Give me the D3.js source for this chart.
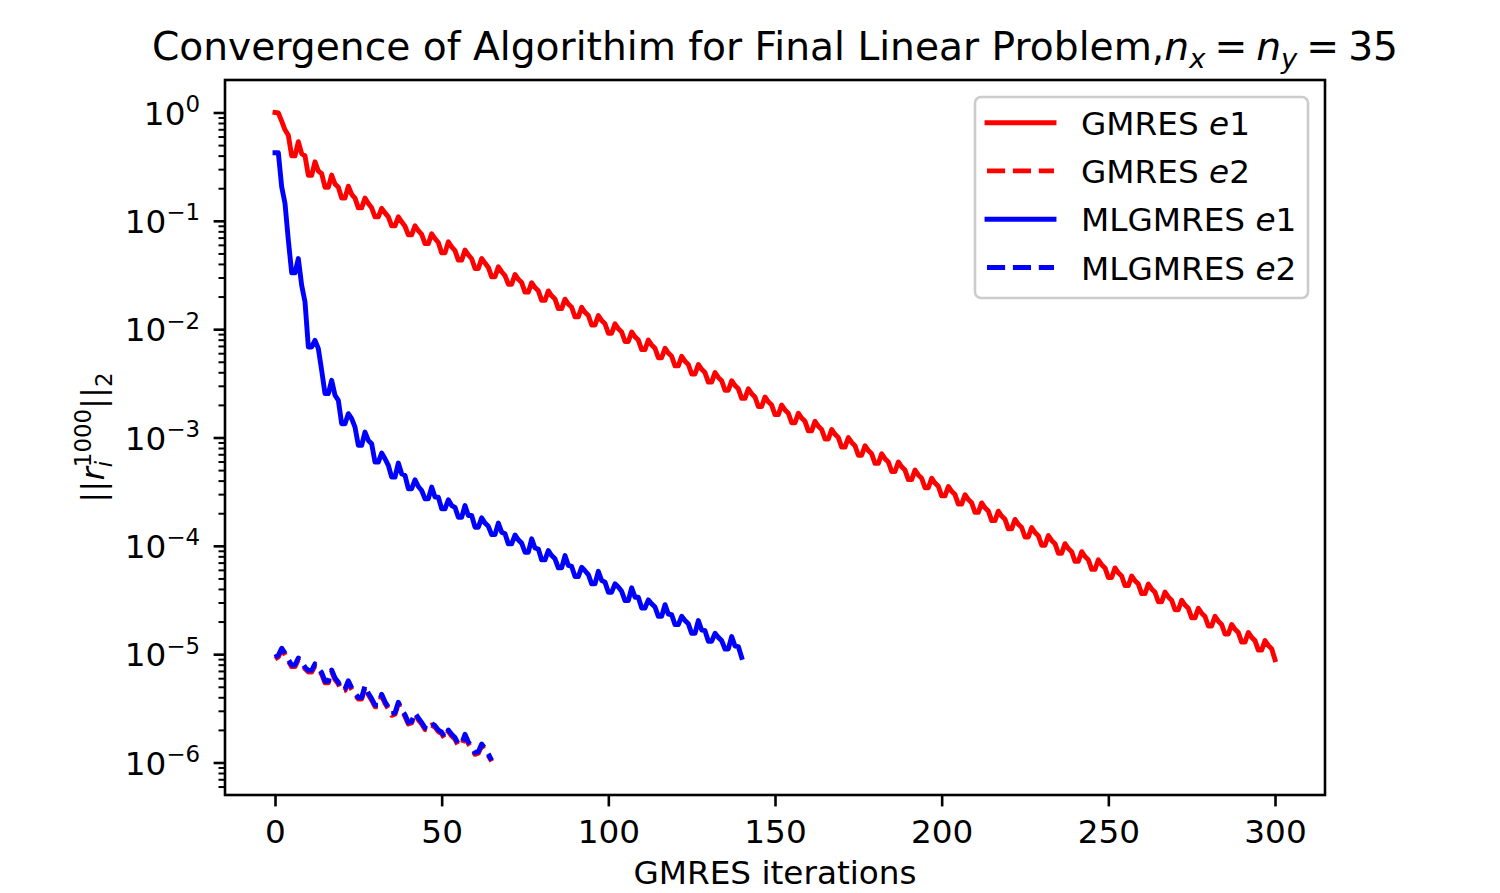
<!DOCTYPE html>
<html>
<head>
<meta charset="utf-8">
<script src="https://cdn.jsdelivr.net/npm/d3@7"></script>
<style>
  html, body { margin: 0; padding: 0; background: #fff; }
  svg text { font-family: "DejaVu Sans", sans-serif; fill: #000; white-space: pre; }
</style>
</head>
<body>
<svg id="chart" width="1500" height="893"></svg>
<script>
// ---------------- DATA (log10 of residual norm, per GMRES iteration) ----------------
const gmresE1Log10 = [
  0.0,-0.005,-0.08,-0.16,-0.21,-0.40,-0.40,-0.27,-0.38,-0.40,
  -0.58,-0.58,-0.455,-0.54,-0.565,-0.69,-0.69,-0.578,-0.66,-0.69,
  -0.79,-0.79,-0.68,-0.755,-0.79,-0.88,-0.88,-0.79,-0.84,-0.88,
  -0.963,-0.963,-0.885,-0.926,-0.963,-1.046,-1.046,-0.963,-1.009,-1.05,
  -1.13,-1.13,-1.046,-1.09,-1.125,-1.21,-1.21,-1.12,-1.165,-1.2,
  -1.296,-1.296,-1.194,-1.24,-1.275,-1.363,-1.363,-1.27,-1.315,-1.35,
  -1.44,-1.44,-1.348,-1.39,-1.43,-1.517,-1.517,-1.425,-1.47,-1.505,
  -1.585,-1.585,-1.495,-1.54,-1.57,-1.658,-1.658,-1.571,-1.616,-1.646,
  -1.734,-1.734,-1.647,-1.692,-1.722,-1.81,-1.81,-1.723,-1.768,-1.798,
  -1.886,-1.886,-1.799,-1.844,-1.874,-1.962,-1.962,-1.875,-1.92,-1.95,
  -2.038,-2.038,-1.951,-1.996,-2.026,-2.114,-2.114,-2.026,-2.071,-2.101,
  -2.189,-2.189,-2.101,-2.146,-2.176,-2.264,-2.264,-2.176,-2.221,-2.251,
  -2.339,-2.339,-2.251,-2.296,-2.326,-2.414,-2.414,-2.326,-2.371,-2.401,
  -2.489,-2.489,-2.401,-2.446,-2.476,-2.564,-2.564,-2.476,-2.521,-2.551,
  -2.639,-2.639,-2.551,-2.596,-2.626,-2.714,-2.714,-2.626,-2.671,-2.701,
  -2.789,-2.789,-2.701,-2.746,-2.776,-2.864,-2.864,-2.776,-2.821,-2.851,
  -2.939,-2.939,-2.851,-2.896,-2.926,-3.014,-3.014,-2.926,-2.971,-3.001,
  -3.089,-3.089,-3.001,-3.046,-3.076,-3.164,-3.164,-3.076,-3.121,-3.151,
  -3.239,-3.239,-3.151,-3.196,-3.226,-3.314,-3.314,-3.226,-3.271,-3.301,
  -3.389,-3.389,-3.301,-3.346,-3.376,-3.464,-3.464,-3.376,-3.421,-3.451,
  -3.539,-3.539,-3.452,-3.497,-3.527,-3.615,-3.615,-3.528,-3.573,-3.603,
  -3.691,-3.691,-3.604,-3.649,-3.679,-3.767,-3.767,-3.68,-3.725,-3.755,
  -3.843,-3.843,-3.756,-3.801,-3.831,-3.919,-3.919,-3.831,-3.876,-3.906,
  -3.994,-3.994,-3.905,-3.95,-3.98,-4.068,-4.068,-3.98,-4.025,-4.055,
  -4.143,-4.143,-4.054,-4.099,-4.129,-4.217,-4.217,-4.129,-4.174,-4.204,
  -4.292,-4.292,-4.204,-4.249,-4.279,-4.367,-4.367,-4.278,-4.323,-4.353,
  -4.441,-4.441,-4.353,-4.398,-4.428,-4.516,-4.516,-4.427,-4.472,-4.502,
  -4.59,-4.59,-4.502,-4.547,-4.577,-4.665,-4.665,-4.577,-4.622,-4.652,
  -4.74,-4.74,-4.651,-4.696,-4.726,-4.814,-4.814,-4.726,-4.771,-4.801,
  -4.889,-4.889,-4.80,-4.845,-4.875,-4.963,-4.963,-4.875,-4.92,-4.95,
  -5.05
];
const gmresE2Log10 = [
  -5.045,-5.025,-4.96,-5.005,-5.065,-5.115,-5.115,-5.05,-5.085,-5.135,
  -5.165,-5.165,-5.105,-5.145,-5.185,-5.265,-5.265,-5.16,-5.235,-5.275,
  -5.345,-5.335,-5.26,-5.325,-5.375,-5.415,-5.415,-5.305,-5.375,-5.425,
  -5.485,-5.485,-5.385,-5.455,-5.505,-5.565,-5.555,-5.46,-5.525,-5.575,
  -5.645,-5.635,-5.555,-5.605,-5.645,-5.695,-5.705,-5.655,-5.675,-5.715,
  -5.735,-5.785,-5.715,-5.755,-5.785,-5.845,-5.845,-5.755,-5.825,-5.875,
  -5.925,-5.915,-5.845,-5.885,-5.935,-5.99
];
const mlgmresE1Log10 = [
  -0.371,-0.371,-0.686,-0.839,-1.178,-1.48,-1.48,-1.348,-1.595,-1.748,
  -2.164,-2.164,-2.103,-2.18,-2.38,-2.595,-2.595,-2.472,-2.61,-2.657,
  -2.873,-2.873,-2.78,-2.826,-2.904,-3.073,-3.073,-2.95,-3.027,-3.058,
  -3.227,-3.227,-3.144,-3.196,-3.258,-3.366,-3.366,-3.236,-3.335,-3.35,
  -3.473,-3.473,-3.39,-3.452,-3.489,-3.566,-3.566,-3.458,-3.55,-3.55,
  -3.658,-3.658,-3.575,-3.628,-3.645,-3.736,-3.736,-3.628,-3.72,-3.72,
  -3.828,-3.828,-3.742,-3.79,-3.82,-3.896,-3.896,-3.79,-3.874,-3.889,
  -3.982,-3.982,-3.9,-3.945,-3.975,-4.059,-4.059,-3.935,-4.02,-4.03,
  -4.13,-4.13,-4.043,-4.09,-4.12,-4.203,-4.203,-4.09,-4.18,-4.19,
  -4.284,-4.284,-4.198,-4.23,-4.265,-4.351,-4.351,-4.235,-4.32,-4.335,
  -4.428,-4.428,-4.351,-4.38,-4.42,-4.506,-4.506,-4.388,-4.474,-4.474,
  -4.574,-4.574,-4.499,-4.535,-4.565,-4.651,-4.651,-4.543,-4.63,-4.636,
  -4.727,-4.727,-4.651,-4.69,-4.72,-4.808,-4.808,-4.69,-4.777,-4.783,
  -4.881,-4.881,-4.808,-4.845,-4.875,-4.952,-4.952,-4.838,-4.925,-4.93,
  -5.03
];
const mlgmresE2Log10 = [
  -5.03,-5.01,-4.945,-4.99,-5.05,-5.10,-5.10,-5.035,-5.07,-5.12,
  -5.15,-5.15,-5.09,-5.13,-5.17,-5.25,-5.25,-5.146,-5.22,-5.26,
  -5.33,-5.32,-5.245,-5.31,-5.36,-5.40,-5.40,-5.29,-5.36,-5.41,
  -5.47,-5.47,-5.37,-5.44,-5.49,-5.55,-5.54,-5.445,-5.51,-5.56,
  -5.63,-5.62,-5.54,-5.59,-5.63,-5.68,-5.69,-5.64,-5.66,-5.70,
  -5.72,-5.77,-5.70,-5.74,-5.77,-5.83,-5.83,-5.74,-5.81,-5.86,
  -5.91,-5.90,-5.83,-5.87,-5.92,-5.98
];
const seriesNames = ["GMRES", "GMRES", "MLGMRES", "MLGMRES"];
const seriesTags = ["1", "2", "1", "2"];
const xTickValues = [0, 50, 100, 150, 200, 250, 300];
const yMajorExponents = [0, -1, -2, -3, -4, -5, -6];

// ---------------- LAYOUT ----------------
const L = 225, R = 1325, T = 80, B = 795;
const FS = 32.7;
const TFS = 39.2;
const LW = 4.9;
const DASH = "18.1,7.8";

const svg = d3.select("#chart");
const x = d3.scaleLinear().domain([-15, 315]).range([L, R]);
const y = d3.scaleLog().domain([Math.pow(10, -6.3), Math.pow(10, 0.3)]).range([B, T]);

function rich(parent, pieces, base) {
  const g = parent.append("g").attr("text-anchor", "start");
  let cx = 0;
  pieces.forEach(p => {
    if (p.gap !== undefined) { cx += p.gap; return; }
    const t = g.append("text").attr("x", cx).attr("y", p.dy || 0)
      .attr("text-anchor", "start")
      .style("font-size", ((p.s || 1) * base) + "px")
      .style("font-style", p.i ? "italic" : "normal")
      .text(p.t);
    const w = t.node().getComputedTextLength();
    if (!p.noAdvance) cx += w;
  });
  return { g, width: cx };
}

// ---------------- LINES ----------------
const series = [
  { data: gmresE1Log10, color: "#ff0000", dash: null },
  { data: gmresE2Log10, color: "#ff0000", dash: DASH },
  { data: mlgmresE1Log10, color: "#0000ff", dash: null },
  { data: mlgmresE2Log10, color: "#0000ff", dash: DASH }
];
const line = d3.line().x((d, i) => x(i)).y(d => y(Math.pow(10, d)));
series.forEach(s => {
  svg.append("path").datum(s.data)
    .attr("d", line)
    .attr("fill", "none")
    .attr("stroke", s.color)
    .attr("stroke-width", LW)
    .attr("stroke-linejoin", "round")
    .attr("stroke-linecap", s.dash ? "butt" : "square")
    .attr("stroke-dasharray", s.dash);
});

// ---------------- AXES ----------------
const xAxis = d3.axisBottom(x).tickValues(xTickValues).tickSize(11.4).tickPadding(10).tickFormat(d3.format("d"));
const gx = svg.append("g").attr("transform", `translate(0,${B})`).call(xAxis);
gx.select(".domain").remove();
gx.selectAll(".tick line").attr("stroke", "#000").attr("stroke-width", 2.6);
gx.selectAll(".tick text").style("font-size", FS + "px").attr("dy", null).attr("y", 48);

// minor y ticks
const minorVals = [];
for (let k = -7; k <= 0; k++) for (let m = 2; m <= 9; m++) {
  const v = m * Math.pow(10, k);
  if (v >= y.domain()[0] && v <= y.domain()[1]) minorVals.push(v);
}
const gyMinor = svg.append("g").attr("transform", `translate(${L},0)`)
  .call(d3.axisLeft(y).tickValues(minorVals).tickSize(6.5).tickFormat(""));
gyMinor.select(".domain").remove();
gyMinor.selectAll(".tick line").attr("stroke", "#000").attr("stroke-width", 2);

const gy = svg.append("g").attr("transform", `translate(${L},0)`)
  .call(d3.axisLeft(y).tickValues(yMajorExponents.map(e => Math.pow(10, e))).tickSize(11.4).tickFormat(""));
gy.select(".domain").remove();
gy.selectAll(".tick line").attr("stroke", "#000").attr("stroke-width", 2.6);
gy.selectAll(".tick").each(function(d, i) {
  const e = yMajorExponents[i];
  const lab = rich(d3.select(this), [
    { t: "10", dy: 11.8 },
    { t: e < 0 ? "\u2212" + (-e) : String(e), s: 0.7, dy: -1 }
  ], FS);
  lab.g.attr("transform", `translate(${-25 - lab.width},0)`);
});

// frame
svg.append("rect").attr("x", L).attr("y", T).attr("width", R - L).attr("height", B - T)
  .attr("fill", "none").attr("stroke", "#000").attr("stroke-width", 2.6);

// ---------------- TEXTS ----------------
const title = rich(svg, [
  { t: "Convergence of Algorithim for Final Linear Problem," },
  { t: "n", i: true },
  { t: "x", i: true, s: 0.7, dy: 8 },
  { gap: 9 },
  { t: "=" },
  { gap: 9 },
  { t: "n", i: true },
  { t: "y", i: true, s: 0.7, dy: 8 },
  { gap: 9 },
  { t: "=" },
  { gap: 9 },
  { t: "35" }
], TFS);
title.g.attr("transform", `translate(${775 - title.width / 2},60)`);

svg.append("text").attr("x", 775).attr("y", 884).attr("text-anchor", "middle")
  .style("font-size", FS + "px").text("GMRES iterations");

const ylab = rich(svg, [
  { t: "||" },
  { t: "r", i: true },
  { t: "i", i: true, s: 0.7, dy: 8, noAdvance: true },
  { t: "1000", s: 0.7, dy: -13 },
  { t: "||" },
  { t: "2", s: 0.7, dy: 8 }
], FS);
ylab.g.attr("transform", `translate(104,${437.5 + ylab.width / 2}) rotate(-90)`);

// ---------------- LEGEND ----------------
const lg = svg.append("g");
lg.append("rect").attr("x", 975).attr("y", 97).attr("width", 333).attr("height", 201)
  .attr("rx", 6).attr("ry", 6)
  .attr("fill", "#fff").attr("fill-opacity", 0.8).attr("stroke", "#cccccc").attr("stroke-width", 2.6);
const rowY = [122.7, 170.9, 219.2, 267.5];
series.forEach((s, i) => {
  lg.append("line").attr("x1", 987).attr("x2", 1054).attr("y1", rowY[i]).attr("y2", rowY[i])
    .attr("stroke", s.color).attr("stroke-width", LW)
    .attr("stroke-dasharray", s.dash).attr("stroke-linecap", s.dash ? "butt" : "square");
  const t = rich(lg, [
    { t: seriesNames[i] + " " },
    { t: "e", i: true },
    { t: seriesTags[i] }
  ], FS);
  t.g.attr("transform", `translate(1081,${rowY[i] + 12})`);
});
</script>
</body>
</html>
